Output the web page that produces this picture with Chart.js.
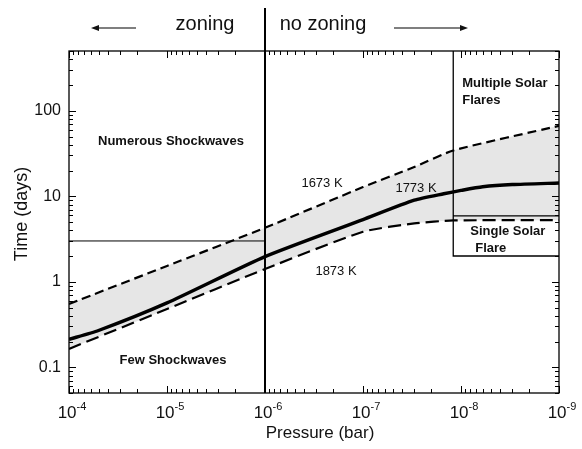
<!DOCTYPE html>
<html>
<head>
<meta charset="utf-8">
<script src="https://cdn.jsdelivr.net/npm/chart.js@4/dist/chart.umd.min.js"></script>
<style>
  html, body { margin: 0; padding: 0; background: #fff; }
  #wrap { width: 582px; height: 449px; }
</style>
</head>
<body>
<div id="wrap"><canvas id="chart"></canvas></div>
<script>
// pressure (bar) sample points, shared by the two bounding curves
const pressure = [1e-4, 1e-5, 1e-6, 1e-7, 3e-8, 1.2e-8, 1e-9];
const t1673 = [0.55, 1.53, 4.28, 12.8, 22.0, 34.3, 66.6];
const t1873 = [0.164, 0.48, 1.41, 3.84, 4.81, 5.21, 5.25];
// solid 1773 K curve has its own knots (bends near 1e-8)
const pressure1773 = [1e-4, 5e-5, 1e-5, 1e-6, 1e-7, 3e-8, 1.5e-8, 1e-8, 6e-9, 3e-9, 1e-9];
const t1773 = [0.212, 0.269, 0.566, 1.97, 5.34, 9.0, 10.7, 11.7, 12.9, 13.7, 14.3];

// region boundaries
const zoningLimit = 1e-6;      // bar
const shockwaveTime = 3;       // days
const flareLimit = 1.2e-8;     // bar
const singleFlareTop = 5.9;    // days
const singleFlareBottom = 2;

const xTicks = [1e-4, 1e-5, 1e-6, 1e-7, 1e-8, 1e-9];
const xTickExp = ['-4', '-5', '-6', '-7', '-8', '-9'];
const yTicks = [0.1, 1, 10, 100];
const yTickLabels = ['0.1', '1', '10', '100'];

const FONT = '"Liberation Sans", Arial, Helvetica, sans-serif';

const pts = (xs, ys) => xs.map((x, i) => ({ x: x, y: ys[i] }));

function minorValues(min, max) {
  const out = [];
  for (let e = -10; e <= 3; e++) {
    for (let m = 1; m <= 9; m++) {
      const v = m * Math.pow(10, e);
      if (v >= min * 0.9999 && v <= max * 1.0001) out.push({ v: v, major: m === 1 });
    }
  }
  return out;
}

const decor = {
  id: 'decor',
  afterDatasetsDraw(chart) {
    const ctx = chart.ctx;
    const xs = chart.scales.x, ys = chart.scales.y;
    const a = chart.chartArea;
    ctx.save();
    ctx.strokeStyle = '#000';

    // shockwave boundary (horizontal) on the zoning side
    const xz = xs.getPixelForValue(zoningLimit);
    const yh = ys.getPixelForValue(shockwaveTime);
    ctx.lineWidth = 1;
    ctx.beginPath();
    ctx.moveTo(a.left, yh); ctx.lineTo(xz, yh);
    ctx.stroke();

    // solar flare boxes
    const xf = xs.getPixelForValue(flareLimit);
    const yt = ys.getPixelForValue(singleFlareTop);
    const yb = ys.getPixelForValue(singleFlareBottom);
    ctx.lineWidth = 1.3;
    ctx.beginPath();
    ctx.moveTo(xf, a.top); ctx.lineTo(xf, yb); ctx.lineTo(a.right, yb);
    ctx.moveTo(xf, yt); ctx.lineTo(a.right, yt);
    ctx.stroke();

    // zoning divide, runs up through the header
    ctx.lineWidth = 2;
    ctx.beginPath();
    ctx.moveTo(xz, 8); ctx.lineTo(xz, a.bottom);
    ctx.stroke();

    // frame
    ctx.lineWidth = 1.3;
    ctx.strokeRect(a.left, a.top, a.right - a.left, a.bottom - a.top);

    // inward ticks on all four sides
    ctx.lineWidth = 1;
    ctx.beginPath();
    minorValues(xs.min, xs.max).forEach(t => {
      const px = Math.round(xs.getPixelForValue(t.v)) + 0.5;
      const len = t.major ? 7 : 4;
      ctx.moveTo(px, a.bottom); ctx.lineTo(px, a.bottom - len);
      ctx.moveTo(px, a.top); ctx.lineTo(px, a.top + len);
    });
    minorValues(ys.min, ys.max).forEach(t => {
      const py = Math.round(ys.getPixelForValue(t.v)) + 0.5;
      const len = t.major ? 7 : 4;
      ctx.moveTo(a.left, py); ctx.lineTo(a.left + len, py);
      ctx.moveTo(a.right, py); ctx.lineTo(a.right - len, py);
    });
    ctx.stroke();

    // tick labels
    ctx.fillStyle = '#111';
    ctx.textBaseline = 'middle';
    ctx.textAlign = 'right';
    ctx.font = '16px ' + FONT;
    yTicks.forEach((v, i) => {
      ctx.fillText(yTickLabels[i], a.left - 8, ys.getPixelForValue(v));
    });
    xTicks.forEach((v, i) => {
      const px = xs.getPixelForValue(v);
      ctx.font = '17px ' + FONT;
      const w1 = ctx.measureText('10').width;
      ctx.font = '11px ' + FONT;
      const w2 = ctx.measureText(xTickExp[i]).width;
      const x0 = px - (w1 + w2) / 2 + 3;
      ctx.textAlign = 'left';
      ctx.textBaseline = 'alphabetic';
      ctx.font = '17px ' + FONT;
      ctx.fillText('10', x0, a.bottom + 25);
      ctx.font = '11px ' + FONT;
      ctx.fillText(xTickExp[i], x0 + w1, a.bottom + 17);
    });

    // axis titles
    ctx.font = '17px ' + FONT;
    ctx.textAlign = 'center';
    ctx.textBaseline = 'middle';
    ctx.fillText('Pressure (bar)', (a.left + a.right) / 2 + 6, 433);
    ctx.save();
    ctx.font = '18px ' + FONT;
    ctx.translate(22, (a.top + a.bottom) / 2 - 8);
    ctx.rotate(-Math.PI / 2);
    ctx.fillText('Time (days)', 0, 0);
    ctx.restore();

    // header
    ctx.font = '20px ' + FONT;
    ctx.fillText('zoning', 205, 24);
    ctx.fillText('no zoning', 323, 24);
    ctx.lineWidth = 1.2;
    ctx.beginPath();
    ctx.moveTo(136, 28); ctx.lineTo(96, 28);
    ctx.moveTo(394, 28); ctx.lineTo(462, 28);
    ctx.stroke();
    ctx.beginPath();
    ctx.moveTo(91, 28); ctx.lineTo(99, 25); ctx.lineTo(99, 31); ctx.closePath();
    ctx.moveTo(468, 28); ctx.lineTo(460, 25); ctx.lineTo(460, 31); ctx.closePath();
    ctx.fill();

    // region labels
    ctx.font = 'bold 13px ' + FONT;
    ctx.fillText('Numerous Shockwaves', 171, 141);
    ctx.fillText('Few Shockwaves', 173, 360);
    ctx.textAlign = 'left';
    ctx.fillText('Multiple Solar', xf + 9, 83);
    ctx.fillText('Flares', xf + 9, 100);
    ctx.fillText('Single Solar', xf + 17, 231);
    ctx.fillText('Flare', xf + 22, 248);

    // isotherm labels
    ctx.font = '13px ' + FONT;
    ctx.textAlign = 'center';
    ctx.fillText('1673 K', 322, 183);
    ctx.fillText('1773 K', 416, 188);
    ctx.fillText('1873 K', 336, 271);
    ctx.restore();
  }
};

new Chart(document.getElementById('chart'), {
  type: 'line',
  data: {
    datasets: [
      {
        label: '1673 K',
        data: pts(pressure, t1673),
        borderColor: '#000',
        borderWidth: 2.2,
        borderDash: [9, 5],
        pointRadius: 0,
        tension: 0.2,
        order: 2,
        fill: { target: 1 },
        backgroundColor: '#e6e6e6'
      },
      {
        label: '1873 K',
        data: pts(pressure, t1873),
        borderColor: '#000',
        borderWidth: 2.2,
        borderDash: [13, 6],
        pointRadius: 0,
        tension: 0.2,
        order: 1,
        fill: false
      },
      {
        label: '1773 K',
        data: pts(pressure1773, t1773),
        borderColor: '#000',
        borderWidth: 3.4,
        pointRadius: 0,
        tension: 0.2,
        order: 0,
        fill: false
      }
    ]
  },
  options: {
    responsive: true,
    maintainAspectRatio: false,
    animation: false,
    layout: { autoPadding: false, padding: { left: 69, right: 23, top: 51, bottom: 56 } },
    plugins: { legend: { display: false }, tooltip: { enabled: false } },
    scales: {
      x: { type: 'logarithmic', min: 1e-9, max: 1e-4, reverse: true, display: false },
      y: { type: 'logarithmic', min: 0.05, max: 500, display: false }
    }
  },
  plugins: [decor]
});
</script>
</body>
</html>
